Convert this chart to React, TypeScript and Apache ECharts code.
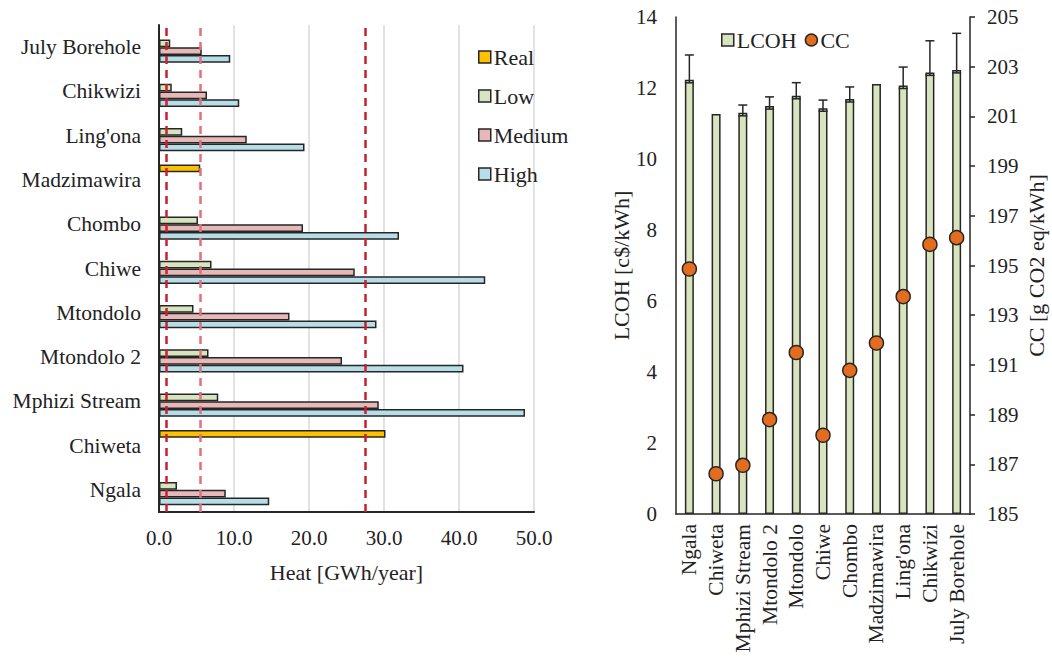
import React, { useEffect, useRef } from "react";
import * as echarts from "echarts";

const sites = ["Ngala", "Chiweta", "Mphizi Stream", "Mtondolo 2", "Mtondolo", "Chiwe", "Chombo", "Madzimawira", "Ling'ona", "Chikwizi", "July Borehole"];

const heatReal = [null, 30.2, null, null, null, null, null, 5.5, null, null, null];
const heatLow = [2.4, null, 7.9, 6.6, 4.6, 7.0, 5.2, null, 3.1, 1.7, 1.5];
const heatMedium = [8.9, null, 29.3, 24.4, 17.4, 26.1, 19.2, null, 11.7, 6.4, 5.7];
const heatHigh = [14.7, null, 48.8, 40.6, 29.0, 43.5, 32.0, null, 19.4, 10.7, 9.5];
const demandLines = [1.0, 5.5, 27.5];
const heatTicks = ["0.0", "10.0", "20.0", "30.0", "40.0", "50.0"];

const lcoh = [12.23, 11.27, 11.3, 11.49, 11.78, 11.43, 11.69, 12.11, 12.07, 12.44, 12.51];
const lcohErrHigh = [12.93, null, 11.52, 11.75, 12.15, 11.66, 12.03, null, 12.59, 13.33, 13.54];
const cc = [194.86, 186.62, 186.96, 188.8, 191.5, 188.17, 190.78, 191.88, 193.75, 195.85, 196.12];

const FONT = "Liberation Serif";
const TXT = "#222";
const EDGE = "#262626";
const TICK_FS = 21;
const CAT_FS = 21.5;
const NAME_FS = 22;

export default function App() {
  const ref = useRef<HTMLDivElement>(null);
  useEffect(() => {
    if (!ref.current) return;
    const chart = echarts.init(ref.current, undefined, { renderer: "svg" });
    const barStyle = (color: string) => ({ color, borderColor: EDGE, borderWidth: 1.5 });
    const lineColors = ["#C8202E", "#E0727E", "#C8202E"];
    const option: any = {
      animation: false,
      textStyle: { fontFamily: FONT, color: TXT },
      legend: [
        {
          orient: "vertical",
          left: 473,
          top: 41,
          itemGap: 17,
          itemWidth: 12,
          itemHeight: 12,
          icon: "rect",
          data: ["Real", "Low", "Medium", "High"],
          textStyle: { fontFamily: FONT, fontSize: NAME_FS, color: TXT, lineHeight: 22, padding: [0, 0, 0, -2] },
          itemStyle: { borderColor: EDGE, borderWidth: 1.5 },
        },
        {
          orient: "horizontal",
          left: 716,
          top: 24,
          itemGap: 8,
          itemWidth: 12,
          itemHeight: 12,
          data: [
            { name: "LCOH", icon: "rect" },
            { name: "CC", icon: "circle" },
          ],
          textStyle: { fontFamily: FONT, fontSize: NAME_FS, color: TXT, lineHeight: 22, padding: [0, 0, 0, -2] },
          itemStyle: { borderColor: EDGE, borderWidth: 1.5 },
        },
      ],
      grid: [
        { left: 159, right: 1052 - 534, top: 25, bottom: 658 - 512, containLabel: false },
        { left: 676, right: 1052 - 970, top: 17, bottom: 658 - 514, containLabel: false },
      ],
      xAxis: [
        {
          gridIndex: 0,
          type: "value",
          min: 0,
          max: 50,
          interval: 10,
          name: "Heat [GWh/year]",
          nameLocation: "middle",
          nameGap: 49,
          nameTextStyle: { fontFamily: FONT, fontSize: NAME_FS, color: TXT },
          axisLine: { show: true, lineStyle: { color: EDGE, width: 2 } },
          axisTick: { show: false },
          axisLabel: {
            fontFamily: FONT,
            fontSize: TICK_FS,
            color: TXT,
            margin: 15,
            formatter: (v: number) => heatTicks[Math.round(v / 10)] ?? v.toFixed(1),
          },
          splitLine: { show: true, lineStyle: { color: "#D9D9D9", width: 1.5 } },
        },
        {
          gridIndex: 1,
          type: "category",
          data: sites,
          axisLine: { show: true, lineStyle: { color: EDGE, width: 1.5 } },
          axisTick: { show: false },
          axisLabel: { rotate: 90, fontFamily: FONT, fontSize: CAT_FS, color: TXT, margin: 10, interval: 0 },
        },
      ],
      yAxis: [
        {
          gridIndex: 0,
          type: "category",
          data: sites,
          axisLine: { show: true, lineStyle: { color: EDGE, width: 2 } },
          axisTick: { show: false },
          axisLabel: { fontFamily: FONT, fontSize: CAT_FS, color: TXT, margin: 18, interval: 0 },
        },
        {
          gridIndex: 1,
          type: "value",
          min: 0,
          max: 14,
          interval: 2,
          name: "LCOH [c$/kWh]",
          nameLocation: "middle",
          nameGap: 43,
          nameTextStyle: { fontFamily: FONT, fontSize: NAME_FS, color: TXT },
          axisLine: { show: true, lineStyle: { color: EDGE, width: 1.5 } },
          axisTick: { show: false },
          axisLabel: { fontFamily: FONT, fontSize: TICK_FS, color: TXT, margin: 19 },
          splitLine: { show: false },
        },
        {
          gridIndex: 1,
          type: "value",
          position: "right",
          min: 185,
          max: 205,
          interval: 2,
          name: "CC [g CO2 eq/kWh]",
          nameLocation: "middle",
          nameGap: 55,
          nameTextStyle: { fontFamily: FONT, fontSize: NAME_FS, color: TXT },
          axisLine: { show: true, lineStyle: { color: EDGE, width: 1.5 } },
          axisTick: { show: true, inside: false, length: 5, lineStyle: { color: EDGE, width: 1.5 } },
          axisLabel: { fontFamily: FONT, fontSize: TICK_FS, color: TXT, margin: 17 },
          splitLine: { show: false },
        },
      ],
      series: [
        {
          name: "Real",
          type: "bar",
          xAxisIndex: 0,
          yAxisIndex: 0,
          data: heatReal,
          barGap: "0%",
          barCategoryGap: "30%",
          itemStyle: barStyle("#FFC000"),
          markLine: {
            silent: true,
            symbol: "none",
            label: { show: false },
            data: demandLines.map((v, i) => ({
              xAxis: v,
              lineStyle: { color: lineColors[i], type: [8, 6], width: 2.5 },
            })),
          },
        },
        { name: "Low", type: "bar", xAxisIndex: 0, yAxisIndex: 0, data: heatLow, barGap: "0%", barCategoryGap: "30%", itemStyle: barStyle("#D7E4BD") },
        { name: "Medium", type: "bar", xAxisIndex: 0, yAxisIndex: 0, data: heatMedium, barGap: "0%", barCategoryGap: "30%", itemStyle: barStyle("#E6B9B8") },
        { name: "High", type: "bar", xAxisIndex: 0, yAxisIndex: 0, data: heatHigh, barGap: "0%", barCategoryGap: "30%", itemStyle: barStyle("#B7DEE8") },
        {
          name: "LCOH",
          type: "bar",
          xAxisIndex: 1,
          yAxisIndex: 1,
          data: lcoh,
          barWidth: 9,
          itemStyle: barStyle("#D7E4BD"),
          z: 2,
        },
        {
          name: "LCOH error",
          type: "custom",
          xAxisIndex: 1,
          yAxisIndex: 1,
          z: 3,
          data: lcoh.map((v, i) => [i, v, lcohErrHigh[i]]),
          renderItem: (params: any, api: any) => {
            const hi = api.value(2);
            if (hi === null || hi === undefined || isNaN(hi)) return null;
            const base = api.coord([api.value(0), api.value(1)]);
            const top = api.coord([api.value(0), hi]);
            const x = base[0];
            const hw = 4.5;
            const st = { stroke: EDGE, lineWidth: 1.5 };
            return {
              type: "group",
              children: [
                { type: "line", shape: { x1: x, y1: base[1] + 3, x2: x, y2: top[1] }, style: st },
                { type: "line", shape: { x1: x - hw, y1: top[1], x2: x + hw, y2: top[1] }, style: st },
                { type: "line", shape: { x1: x - hw, y1: base[1] + 3, x2: x + hw, y2: base[1] + 3 }, style: st },
              ],
            };
          },
        },
        {
          name: "CC",
          type: "scatter",
          xAxisIndex: 1,
          yAxisIndex: 2,
          data: cc,
          symbol: "circle",
          symbolSize: 14,
          itemStyle: { color: "#E36C1E", borderColor: EDGE, borderWidth: 1.5, opacity: 1 },
          z: 5,
        },
      ],
    };
    chart.setOption(option);
    return () => chart.dispose();
  }, []);
  return <div ref={ref} style={{ width: 1052, height: 658, position: "absolute", left: 0, top: 0 }} />;
}
